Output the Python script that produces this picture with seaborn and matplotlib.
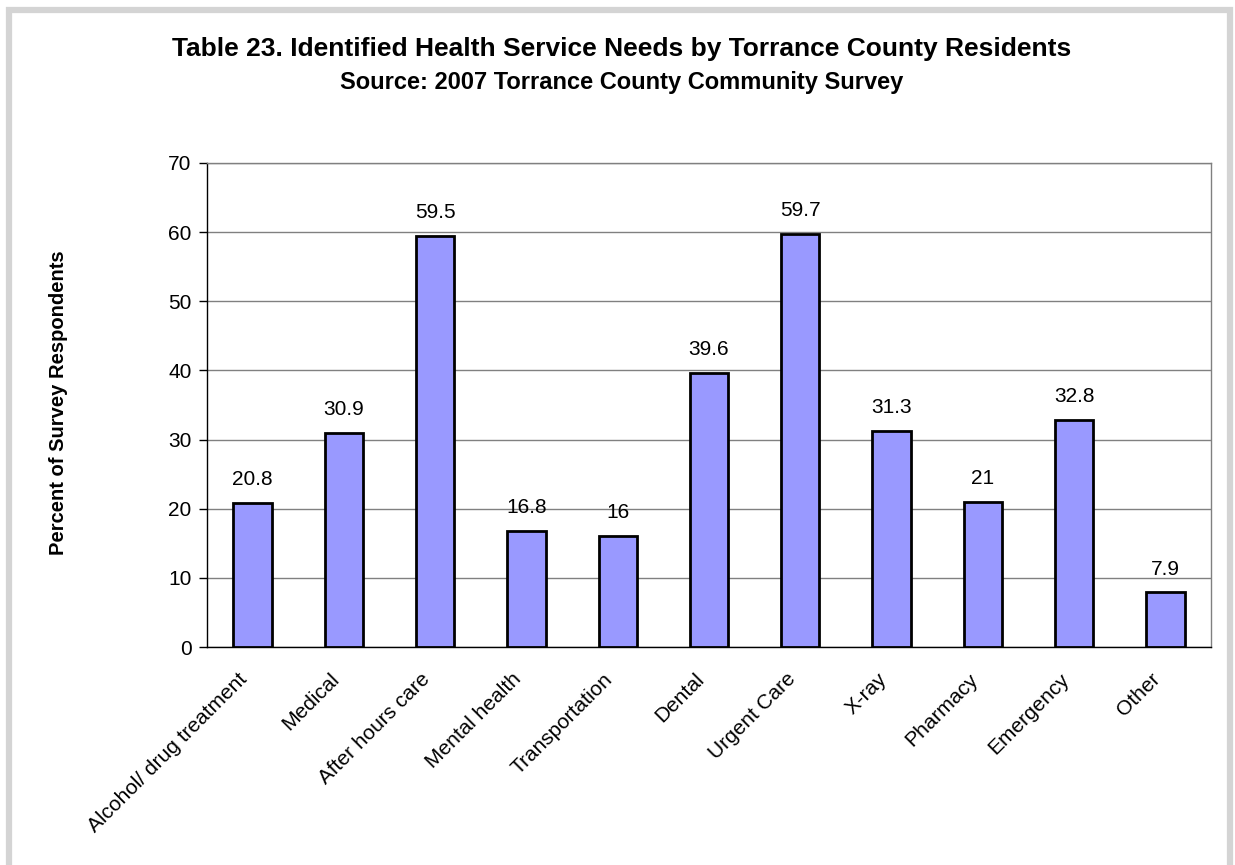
import matplotlib
matplotlib.use("Agg")
import matplotlib.pyplot as plt
import matplotlib.patches as mpatches
import matplotlib.transforms as mtransforms
import seaborn as sns
import pandas as pd

categories = ["Alcohol/ drug treatment", "Medical", "After hours care", "Mental health",
              "Transportation", "Dental", "Urgent Care", "X-ray", "Pharmacy",
              "Emergency", "Other"]
values = [20.8, 30.9, 59.5, 16.8, 16, 39.6, 59.7, 31.3, 21, 32.8, 7.9]
value_labels = ["20.8", "30.9", "59.5", "16.8", "16", "39.6", "59.7", "31.3", "21", "32.8", "7.9"]
y_ticks = [0, 10, 20, 30, 40, 50, 60, 70]

sns.set_style("white")
plt.rcParams["font.family"] = ["Liberation Sans", "DejaVu Sans"]
plt.rcParams["text.color"] = "black"
plt.rcParams["axes.labelcolor"] = "black"
plt.rcParams["xtick.color"] = "black"
plt.rcParams["ytick.color"] = "black"

fig = plt.figure(figsize=(12.35, 8.65), dpi=100)
ax = fig.add_axes([0.1676, 0.2520, 0.8130, 0.5596])

df = pd.DataFrame({"cat": categories, "val": values})
sns.barplot(data=df, x="cat", y="val", ax=ax, color="#9999FF", saturation=1,
            width=0.42, edgecolor="black", linewidth=2, zorder=3)

ax.set_ylim(0, 70)
ax.set_xlim(-0.5, len(categories) - 0.5)
ax.set_yticks(y_ticks)
ax.set_yticklabels([str(t) for t in y_ticks], fontsize=15)
ax.yaxis.grid(True, color="#808080", linewidth=1, zorder=0)
ax.set_axisbelow(True)

# category labels under bars, boundary ticks between them
ax.set_xticks(range(len(categories)))
ax.set_xticklabels(categories, rotation=45, ha="right", va="center",
                   rotation_mode="anchor", fontsize=15)
ax.tick_params(axis="x", which="major", length=0, pad=21)
shift = mtransforms.ScaledTranslation(-0.08, 0, fig.dpi_scale_trans)
for lbl in ax.get_xticklabels():
    lbl.set_transform(lbl.get_transform() + shift)
ax.set_xticks([i - 0.5 for i in range(len(categories) + 1)], minor=True)
ax.tick_params(axis="x", which="minor", length=6, width=1, color="black", direction="out")
ax.tick_params(axis="y", length=6, width=1, color="black", direction="out", left=True, pad=5)

for side in ["left", "bottom"]:
    ax.spines[side].set_color("black")
    ax.spines[side].set_linewidth(1)
for side in ["top", "right"]:
    ax.spines[side].set_visible(True)
    ax.spines[side].set_color("#808080")
    ax.spines[side].set_linewidth(1)

for i, (v, lab) in enumerate(zip(values, value_labels)):
    ax.annotate(lab, (i, v), xytext=(0, 10), textcoords="offset points",
                ha="center", va="bottom", fontsize=15)

ax.set_xlabel("")
ax.set_ylabel("")
fig.text(0.047, 0.535, "Percent of Survey Respondents", rotation=90, ha="center",
         va="center", fontsize=14.5, fontweight="bold")

fig.text(0.503, 0.943, "Table 23. Identified Health Service Needs by Torrance County Residents",
         ha="center", va="center", fontsize=19, fontweight="bold")
fig.text(0.503, 0.905, "Source: 2007 Torrance County Community Survey",
         ha="center", va="center", fontsize=17, fontweight="bold")

# outer frame
frame = mpatches.Rectangle((8.5 / 1235, -0.05), 1 - 14 / 1235, 1.05 - 9.5 / 865,
                           transform=fig.transFigure, fill=False,
                           edgecolor="#D4D4D4", linewidth=4.5)
fig.patches.append(frame)

fig.savefig("out.png", dpi=100)
